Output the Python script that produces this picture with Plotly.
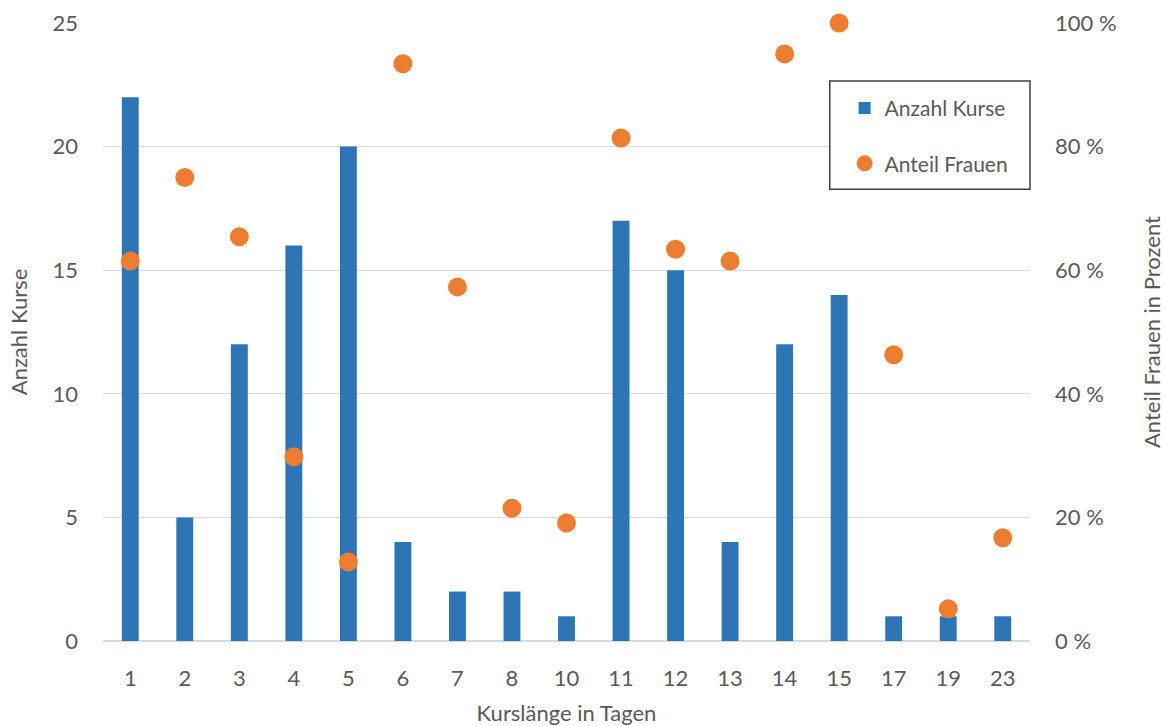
import plotly.graph_objects as go

# Course length in days (categorical x axis)
kurslaenge = ["1", "2", "3", "4", "5", "6", "7", "8", "10", "11", "12", "13", "14", "15", "17", "19", "23"]
# Number of courses per length
anzahl_kurse = [22, 5, 12, 16, 20, 4, 2, 2, 1, 17, 15, 4, 12, 14, 1, 1, 1]
# Share of women per length, in percent
anteil_frauen = [61.5, 75.0, 65.4, 29.8, 12.8, 93.4, 57.3, 21.5, 19.1, 81.4, 63.4, 61.5, 95.0, 100.0, 46.3, 5.2, 16.7]

FONT = "Lato, 'Open Sans', sans-serif"
TXT = "#595959"
GRID = "#d9d9d9"
FS = 22

fig = go.Figure()
fig.add_trace(go.Bar(
    x=kurslaenge, y=anzahl_kurse, name="Anzahl Kurse",
    marker=dict(color="#2e75b6", line=dict(width=0)),
    width=0.31, legendgroup="a",
))
fig.add_trace(go.Scatter(
    x=kurslaenge, y=anteil_frauen, name="Anteil Frauen", yaxis="y2",
    mode="markers", marker=dict(color="#ed7d31", size=19),
    cliponaxis=False, legendgroup="b",
))

# Frame around the legend
fig.add_shape(
    type="rect", xref="paper", yref="paper",
    x0=0.784, x1=1.0, y0=0.731, y1=0.906,
    line=dict(color="#404040", width=1.5), fillcolor="white", layer="above",
)

fig.update_layout(
    width=1165, height=726,
    margin=dict(l=103, r=135, t=23, b=85),
    paper_bgcolor="white", plot_bgcolor="white",
    font=dict(family=FONT, size=FS, color=TXT),
    showlegend=True,
    legend=dict(
        x=0.80, xanchor="left", y=0.895, yanchor="top",
        borderwidth=0, bgcolor="rgba(0,0,0,0)",
        font=dict(size=21, color=TXT),
        traceorder="grouped", tracegroupgap=25,
        itemsizing="trace",
    ),
    xaxis=dict(
        type="category", range=[-0.5, 16.5], automargin=False,
        showgrid=False, showline=False, ticks="", ticklabelstandoff=22,
        tickfont=dict(size=FS, color=TXT),
        title=dict(text="Kurslänge in Tagen", font=dict(size=FS, color=TXT), standoff=16),
    ),
    yaxis=dict(
        range=[0, 25], dtick=5, automargin=False,
        showgrid=True, gridcolor=GRID, gridwidth=1.3,
        zeroline=True, zerolinecolor=GRID, zerolinewidth=1.5,
        ticks="", showline=False, ticklabelstandoff=24,
        tickfont=dict(size=FS, color=TXT),
        title=dict(text="Anzahl Kurse", font=dict(size=FS, color=TXT), standoff=18),
    ),
    yaxis2=dict(
        range=[0, 100], dtick=20, overlaying="y", side="right", automargin=False,
        showgrid=False, zeroline=False, ticks="", showline=False,
        ticklabelstandoff=24,
        ticksuffix=" %", tickfont=dict(size=FS, color=TXT),
        title=dict(text="Anteil Frauen in Prozent", font=dict(size=FS, color=TXT), standoff=30),
    ),
)

fig.write_html("out.html")
